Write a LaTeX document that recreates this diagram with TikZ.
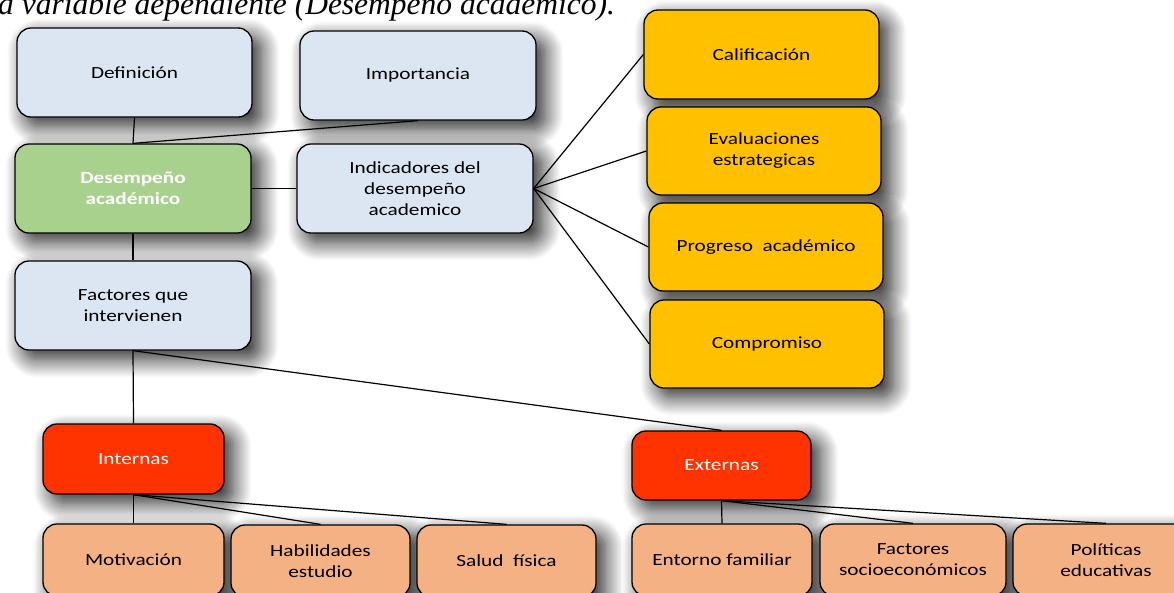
\documentclass[tikz,border=0pt]{standalone}
\usepackage{fontspec}
\setmainfont{Carlito}[FakeStretch=1.25]
\newfontfamily\capfont{Liberation Serif}
\usetikzlibrary{shadows.blur,backgrounds}
\pgfdeclarelayer{paper}
\pgfsetlayers{paper,background,main}
\definecolor{lblue}{HTML}{DCE6F2}
\definecolor{dgreen}{HTML}{A9D18E}
\definecolor{gold}{HTML}{FFC000}
\definecolor{hred}{HTML}{FF3300}
\definecolor{peach}{HTML}{F4B183}
\tikzset{
  box/.style={draw=black, line width=1.3pt, rounded corners=14pt, align=center,
    inner sep=2pt, text=black, font=\fontsize{17}{21}\selectfont},
  bluebox/.style={box, fill=lblue},
  greenbox/.style={box, fill=dgreen, text=white, font=\bfseries\fontsize{17}{21}\selectfont},
  goldbox/.style={box, fill=gold},
  redbox/.style={box, fill=hred, text=white},
  peachbox/.style={box, fill=peach},
  link/.style={draw=black, line width=1.2pt},
  shd/.style={blur shadow={shadow xshift=9pt, shadow yshift=-9pt, shadow blur radius=18pt, shadow blur steps=18, shadow opacity=85}}
}
\begin{document}
\begin{tikzpicture}[x=1pt,y=-1pt]
\useasboundingbox (0,0) rectangle (1174,592);
\begin{pgfonlayer}{paper}
\fill[white] (0,0) rectangle (1174,592);
\end{pgfonlayer}
\node[anchor=base west, inner sep=0pt, font=\capfont\itshape\fontsize{31.5}{36}\selectfont] (cap) at (-2,14) {a variable dependiente (Desempeño académico).};

\node[bluebox, minimum width=235pt, minimum height=89pt] (def) at (134.5,72.5) {Definición};
\node[bluebox, minimum width=236pt, minimum height=89pt] (imp) at (418,75.5) {Importancia};
\node[greenbox, minimum width=236pt, minimum height=89pt] (des) at (133,188.5) {Desempeño\\académico};
\node[bluebox, minimum width=236pt, minimum height=89pt] (ind) at (415,188.5) {Indicadores del\\desempeño\\academico};
\node[bluebox, minimum width=236pt, minimum height=89pt] (fac) at (133,305.5) {Factores que\\intervienen};

\node[goldbox, minimum width=235pt, minimum height=89pt] (cal) at (761.5,54.5) {Calificación};
\node[goldbox, minimum width=234pt, minimum height=88pt] (eva) at (764,151) {Evaluaciones\\estrategicas};
\node[goldbox, minimum width=234pt, minimum height=88pt] (pro) at (766,247) {Progreso\ \ académico};
\node[goldbox, minimum width=234pt, minimum height=88pt] (com) at (767,344) {Compromiso};

\node[redbox, minimum width=181pt, minimum height=70pt] (int) at (133.5,459) {Internas};
\node[redbox, minimum width=179pt, minimum height=69pt] (ext) at (721.5,465.5) {Externas};

\node[peachbox, minimum width=181pt, minimum height=72pt] (mot) at (133.5,560) {Motivación};
\node[peachbox, minimum width=179pt, minimum height=72pt] (hab) at (320.5,561) {Habilidades\\estudio};
\node[peachbox, minimum width=179pt, minimum height=72pt] (sal) at (506.5,561) {Salud\ \ física};
\node[peachbox, minimum width=180pt, minimum height=72pt] (ent) at (722,560) {Entorno familiar};
\node[peachbox, minimum width=186pt, minimum height=72pt] (soc) at (913,560) {Factores\\socioeconómicos};
\node[peachbox, minimum width=186pt, minimum height=72pt] (pol) at (1106,560) {Políticas\\educativas};

\begin{scope}[on background layer]
\path[shd] (3000,3000) rectangle (3010,3010);
\foreach \n in {def,imp,des,ind,fac,cal,eva,pro,com,int,ext,mot,hab,sal,ent,soc,pol}
  \path[shd, rounded corners=14pt] (\n.north west) rectangle (\n.south east);
\end{scope}

\draw[link] (def.south) -- (des.north);
\draw[link] (imp.south) -- (des.north);
\draw[link] (des.east) -- (ind.west);
\draw[link] (des.south) -- (fac.north);
\draw[link] (ind.east) -- (cal.west);
\draw[link] (ind.east) -- (eva.west);
\draw[link] (ind.east) -- (pro.west);
\draw[link] (ind.east) -- (com.west);
\draw[link] (fac.south) -- (int.north);
\draw[link] (fac.south) -- (ext.north);
\draw[link] (int.south) -- (mot.north);
\draw[link] (int.south) -- (hab.north);
\draw[link] (int.south) -- (sal.north);
\draw[link] (ext.south) -- (ent.north);
\draw[link] (ext.south) -- (soc.north);
\draw[link] (ext.south) -- (pol.north);
\end{tikzpicture}
\end{document}
